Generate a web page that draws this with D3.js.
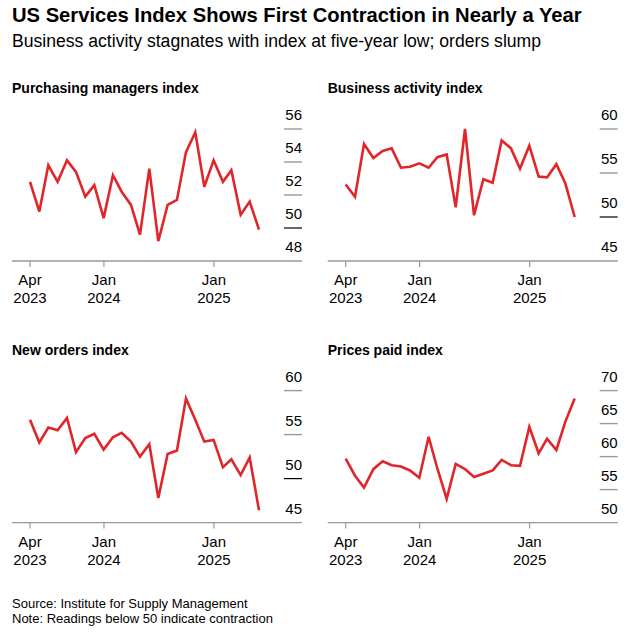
<!DOCTYPE html>
<html>
<head>
<meta charset="utf-8">
<script src="https://cdn.jsdelivr.net/npm/d3@7"></script>
<style>
  body { margin: 0; background: #fff; }
  svg { display: block; font-family: "Liberation Sans", Arial, sans-serif; }
</style>
</head>
<body>
<svg id="mysvg" width="635" height="633"></svg>
<script>
// monthly readings, Apr 2023 .. May 2025
var months = ["2023-04","2023-05","2023-06","2023-07","2023-08","2023-09","2023-10","2023-11","2023-12",
  "2024-01","2024-02","2024-03","2024-04","2024-05","2024-06","2024-07","2024-08","2024-09","2024-10","2024-11","2024-12",
  "2025-01","2025-02","2025-03","2025-04","2025-05"];

var pmi = [52.8,51.0,53.8,52.8,54.1,53.4,51.9,52.6,50.6,53.2,52.2,51.4,49.6,53.6,49.2,51.4,51.7,54.6,55.8,52.5,54.1,52.8,53.5,50.8,51.6,49.9];
var business = [53.7,52.3,58.3,56.7,57.5,57.8,55.6,55.7,56.1,55.6,56.8,57.1,51.1,60.0,50.2,54.3,53.9,58.7,57.8,55.5,58.1,54.6,54.5,56.0,53.8,50.0];
var newOrders = [56.7,54.1,55.8,55.5,56.9,53.0,54.6,55.1,53.3,54.7,55.2,54.2,52.5,53.9,47.8,52.8,53.2,59.1,56.7,54.2,54.4,51.3,52.2,50.4,52.4,46.4];
var prices = [59.7,57.1,55.3,58.1,59.3,58.7,58.5,57.9,56.8,63.0,58.2,53.6,58.9,58.1,56.9,57.4,57.9,59.5,58.7,58.6,64.5,60.5,62.7,61.0,65.3,68.8];

var panelTitles = ["Purchasing managers index","Business activity index","New orders index","Prices paid index"];
var yTicks = [[48,50,52,54,56],[45,50,55,60],[45,50,55,60],[50,55,60,65,70]];
var yDomains = [[48,56],[45,60],[45,60],[50,70]];

var xTickDates = ["2023-04-30","2024-01-01","2025-01-01"];
var xTickLabels = [["Apr","2023"],["Jan","2024"],["Jan","2025"]];

var series = [pmi, business, newOrders, prices];

var svg = d3.select("#mysvg");
var red = "#e0262b";

// month-end dates
var parseMonth = d3.timeParse("%Y-%m");
var dates = months.map(function(m){
  var d = parseMonth(m);
  return d3.timeDay.offset(d3.timeMonth.offset(d, 1), -1);
});
var parseDay = d3.timeParse("%Y-%m-%d");
var tickDates = xTickDates.map(parseDay);

svg.append("text")
  .attr("x", 12).attr("y", 22)
  .style("font-size", "20.2px").style("font-weight", "bold").style("fill", "#000")
  .text("US Services Index Shows First Contraction in Nearly a Year");

svg.append("text")
  .attr("x", 12).attr("y", 47)
  .style("font-size", "17.6px").style("fill", "#000")
  .text("Business activity stagnates with index at five-year low; orders slump");

var offsets = [[0,0],[315.7,0],[0,261.6],[315.7,261.6]];

for (var p=0; p<4; p++){
  var ox = offsets[p][0], oy = offsets[p][1];
  var g = svg.append("g").attr("transform", "translate(" + ox + "," + oy + ")");

  var x = d3.scaleTime().domain([dates[0], dates[dates.length-1]]).range([30, 259]);
  var y = d3.scaleLinear().domain(yDomains[p]).range([261, 129]);

  g.append("text")
    .attr("x", 12).attr("y", 93)
    .style("font-size", "14px").style("font-weight", "bold").style("fill", "#000")
    .text(panelTitles[p]);

  // y gridline stubs + labels on the right
  var yt = g.append("g").selectAll("g")
    .data(yTicks[p].filter(function(d){ return d != yDomains[p][0]; }))
    .enter().append("g");
  yt.append("line")
    .attr("x1", 284).attr("x2", 302)
    .attr("y1", function(d){ return y(d); })
    .attr("y2", function(d){ return y(d); })
    .attr("stroke", function(d){ return d===50 ? "#000" : "#999"; })
    .attr("stroke-width", function(d){ return d===50 ? 1.2 : 1.4; });
  g.append("g").selectAll("text")
    .data(yTicks[p])
    .enter().append("text")
      .attr("x", 302)
      .attr("y", function(d){ return y(d) - 9; })
      .attr("text-anchor", "end")
      .style("font-size", "15px").style("fill", "#000")
      .text(function(d){ return d; });

  // x axis
  g.append("line")
    .attr("x1", 12).attr("x2", 302)
    .attr("y1", 261).attr("y2", 261)
    .attr("stroke", "#999").attr("stroke-width", 1.4);

  var xt = g.append("g").selectAll("g")
    .data(tickDates)
    .enter().append("g")
      .attr("transform", function(d){ return "translate(" + x(d) + ",261)"; });
  xt.append("line").attr("y1", 0).attr("y2", 6).attr("stroke", "#999").attr("stroke-width", 1.2);
  xt.append("text").attr("y", 24).attr("text-anchor", "middle")
    .style("font-size", "15px").style("fill", "#000")
    .text(function(d,i){ return xTickLabels[i][0]; });
  xt.append("text").attr("y", 42).attr("text-anchor", "middle")
    .style("font-size", "15px").style("fill", "#000")
    .text(function(d,i){ return xTickLabels[i][1]; });

  var line = d3.line()
    .x(function(d,i){ return x(dates[i]); })
    .y(function(d){ return y(d); });

  g.append("path")
    .datum(series[p])
    .attr("d", line)
    .attr("fill", "none")
    .attr("stroke", red)
    .attr("stroke-width", 2.6)
    .attr("stroke-linejoin", "miter");
}

svg.append("text")
  .attr("x", 12).attr("y", 608)
  .style("font-size", "13px").style("fill", "#000")
  .text("Source: Institute for Supply Management");
svg.append("text")
  .attr("x", 12).attr("y", 623)
  .style("font-size", "13px").style("fill", "#000")
  .text("Note: Readings below 50 indicate contraction");
</script>
</body>
</html>
